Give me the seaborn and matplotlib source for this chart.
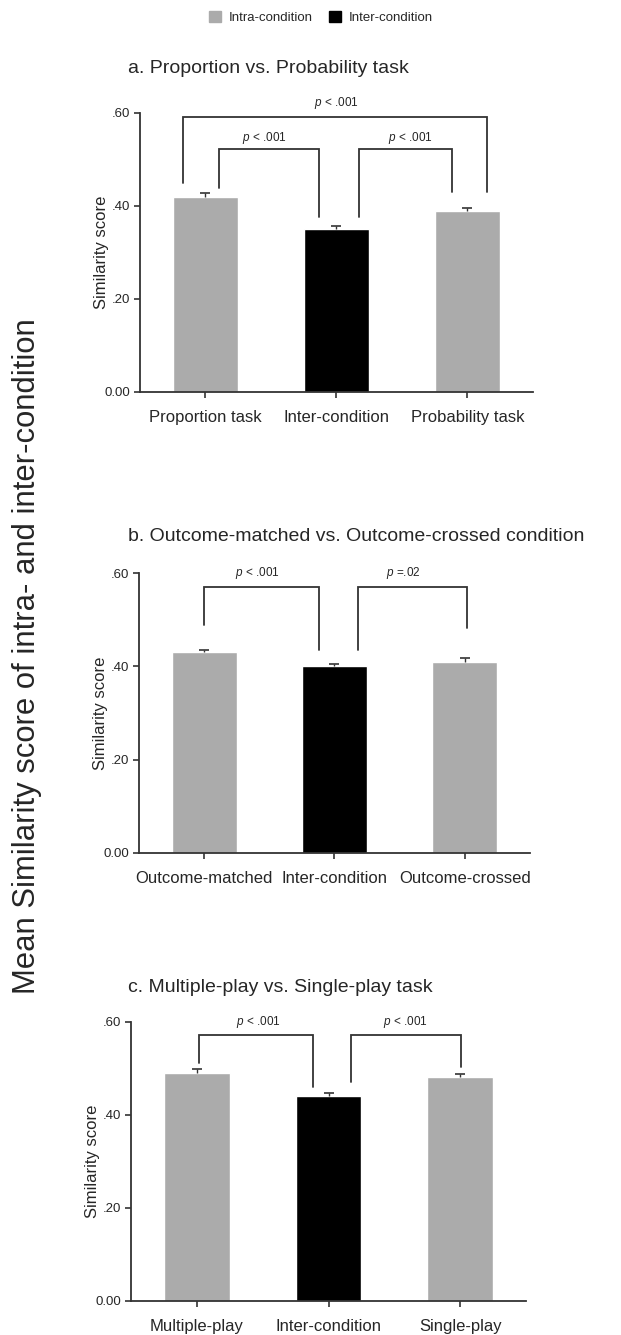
import matplotlib
matplotlib.use("Agg")
import matplotlib.pyplot as plt
import matplotlib.patches as mpatches
import seaborn as sns
import pandas as pd
import numpy as np

sns.set_style("white")
plt.rcParams['font.family'] = ['Liberation Sans', 'DejaVu Sans']
plt.rcParams['mathtext.fontset'] = 'custom'
plt.rcParams['mathtext.it'] = 'Liberation Sans:italic'
plt.rcParams['mathtext.rm'] = 'Liberation Sans'

# ---- data ----
titles = ["a. Proportion vs. Probability task",
          "b. Outcome-matched vs. Outcome-crossed condition",
          "c. Multiple-play vs. Single-play task"]
cats_a = ["Proportion task", "Inter-condition", "Probability task"]
cats_b = ["Outcome-matched", "Inter-condition", "Outcome-crossed"]
cats_c = ["Multiple-play", "Inter-condition", "Single-play"]
vals_a = [0.42, 0.35, 0.39]
vals_b = [0.43, 0.40, 0.41]
vals_c = [0.49, 0.44, 0.48]
se_a = [0.007, 0.007, 0.006]
se_b = [0.006, 0.005, 0.007]
se_c = [0.009, 0.007, 0.008]
groups = ["Intra-condition", "Inter-condition", "Intra-condition"]
yticks = [0.0, 0.2, 0.4, 0.6]
ytick_labels = ["0.00", ".20", ".40", ".60"]

# significance annotations: (x_left, x_right, y_bar, y_leg_left, y_leg_right, text, text_x, text_y)
sig_a = [(-0.17, 2.15, 0.592, 0.449, 0.430, r"$\it{p}$ < .001", 1.00, 0.622),
         (0.10, 0.87, 0.523, 0.439, 0.377, r"$\it{p}$ < .001", 0.45, 0.547),
         (1.17, 1.88, 0.523, 0.377, 0.430, r"$\it{p}$ < .001", 1.56, 0.547)]
sig_b = [(0.00, 0.88, 0.570, 0.489, 0.435, r"$\it{p}$ < .001", 0.41, 0.600),
         (1.18, 2.02, 0.570, 0.435, 0.482, r"$\it{p}$ =.02", 1.53, 0.600)]
sig_c = [(0.02, 0.88, 0.571, 0.511, 0.460, r"$\it{p}$ < .001", 0.47, 0.600),
         (1.17, 2.01, 0.571, 0.471, 0.502, r"$\it{p}$ < .001", 1.58, 0.600)]

palette = {"Intra-condition": "#ababab", "Inter-condition": "#000000"}
spine_col = "#333333"

fig = plt.figure(figsize=(6.21, 13.35), dpi=100)
axes_pos = [[0.2254, 0.7064, 0.6329, 0.2090],
            [0.2238, 0.3613, 0.6296, 0.2093],
            [0.2110, 0.0257, 0.6360, 0.2090]]
title_y = [0.949, 0.598, 0.260]

panels = [(cats_a, vals_a, se_a, sig_a), (cats_b, vals_b, se_b, sig_b), (cats_c, vals_c, se_c, sig_c)]
for i, (cats, vals, se, sigs) in enumerate(panels):
    ax = fig.add_axes(axes_pos[i])
    df = pd.DataFrame({"cat": cats, "val": vals, "grp": groups})
    sns.barplot(data=df, x="cat", y="val", hue="grp", palette=palette, dodge=False,
                width=0.5, ax=ax, legend=False, errorbar=None, saturation=1)
    eb = ax.errorbar(np.arange(len(cats)), vals, yerr=[np.zeros(len(se)), se], fmt='none',
                     ecolor="#333333", elinewidth=1.0, capsize=3.5, capthick=1.2)
    caps = eb[1]
    if len(caps) == 2:
        caps[0].set_visible(False)
    ax.set_xlim(-0.5, 2.5)
    ax.set_ylim(0, 0.6)
    ax.set_yticks(yticks)
    ax.set_yticklabels(ytick_labels, fontsize=9.5)
    ax.set_xticks(range(len(cats)))
    ax.set_xticklabels(cats, fontsize=12)
    ax.set_xlabel("")
    ax.set_ylabel("Similarity score", fontsize=12, labelpad=-3)
    for s in ["top", "right"]:
        ax.spines[s].set_visible(False)
    for s in ["left", "bottom"]:
        ax.spines[s].set_color(spine_col)
        ax.spines[s].set_linewidth(1.3)
    ax.tick_params(axis='both', direction='out', length=4, width=1.2, color=spine_col,
                   left=True, bottom=True, pad=3)
    ax.tick_params(axis='x', pad=9)
    for (x1, x2, yb, yl1, yl2, txt, tx, ty) in sigs:
        ax.plot([x1, x1, x2, x2], [yl1, yb, yb, yl2], color="#333333", lw=1.3,
                clip_on=False, solid_joinstyle='miter')
        ax.text(tx, ty, txt, ha='center', va='center', fontsize=8.5, clip_on=False)
    fig.text(0.206, title_y[i], titles[i], fontsize=14, ha='left', va='center')

handles = [mpatches.Patch(color=palette["Intra-condition"], label="Intra-condition"),
           mpatches.Patch(color=palette["Inter-condition"], label="Inter-condition")]
fig.legend(handles=handles, loc='center', bbox_to_anchor=(0.517, 0.987), ncol=2,
           frameon=False, fontsize=9.5, handlelength=0.9, handleheight=0.9,
           handletextpad=0.6, columnspacing=1.2)

fig.text(0.043, 0.5086, "Mean Similarity score of intra- and inter-condition",
         rotation=90, fontsize=22.3, ha='center', va='center')

fig.savefig("out.png", dpi=100)
